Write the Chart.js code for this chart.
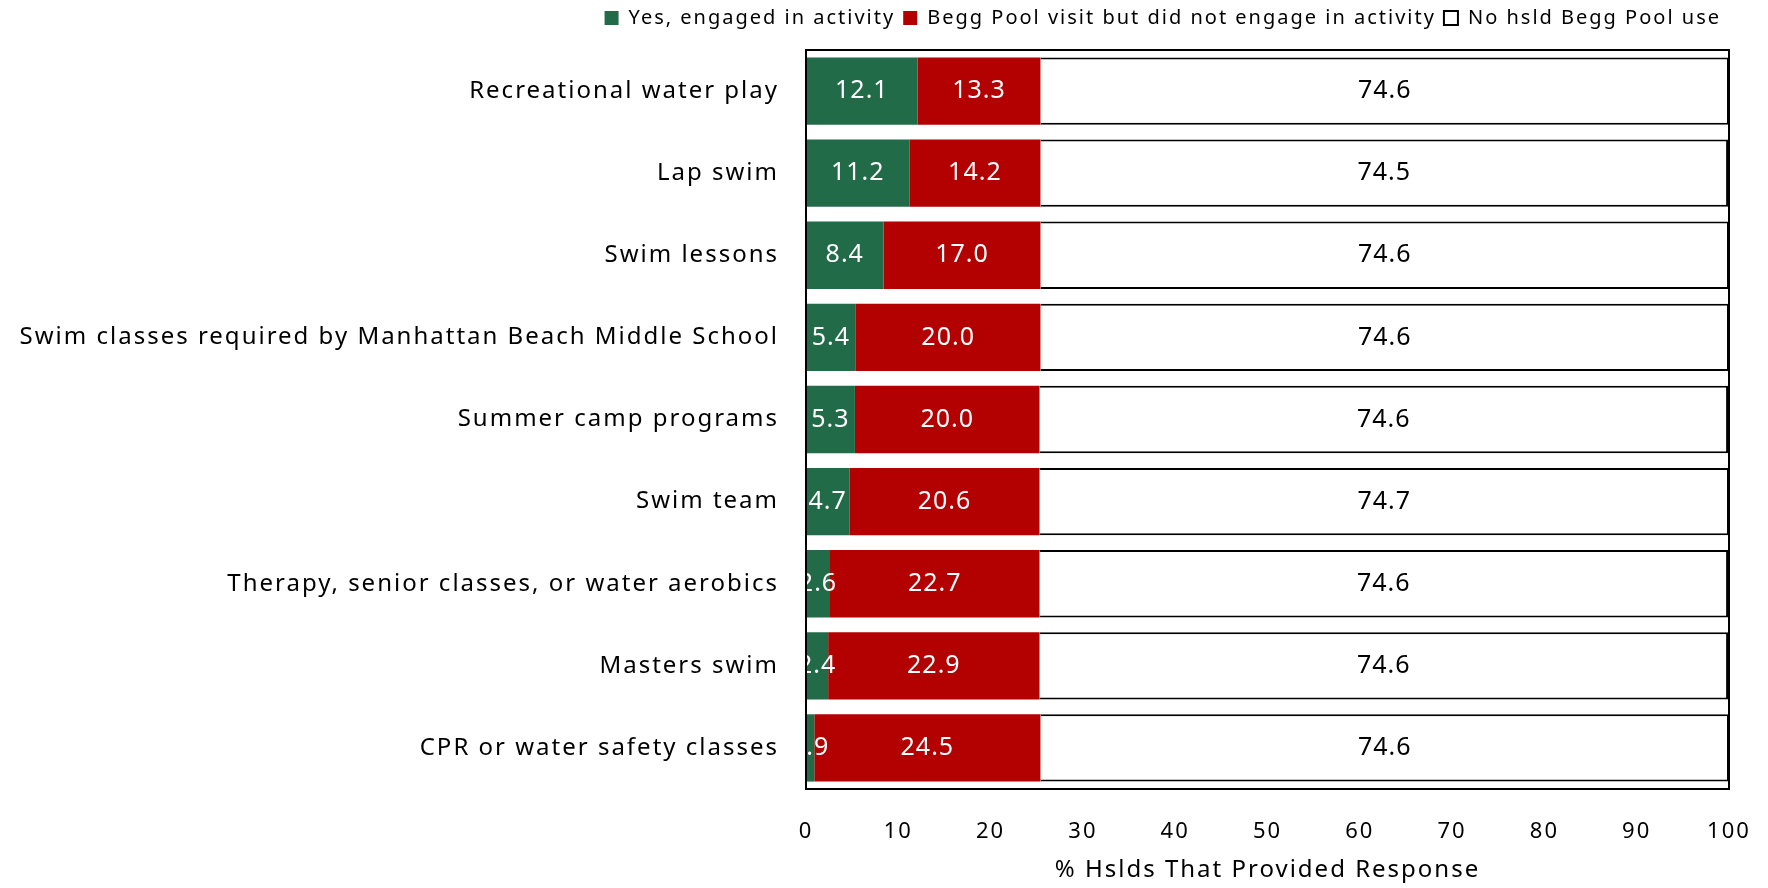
<!DOCTYPE html>
<html>
<head>
<meta charset="utf-8">
<script src="https://cdn.jsdelivr.net/npm/chart.js@4"></script>
<style>
  html, body { margin: 0; padding: 0; background: #fff; }
  #poolChart { display: block; }
</style>
</head>
<body>
<canvas id="poolChart" width="1768" height="888"></canvas>
<script>
// activity categories (top to bottom)
const activities = [
  'Recreational water play',
  'Lap swim',
  'Swim lessons',
  'Swim classes required by Manhattan Beach Middle School',
  'Summer camp programs',
  'Swim team',
  'Therapy, senior classes, or water aerobics',
  'Masters swim',
  'CPR or water safety classes'
];

// % of households
const engaged = [12.1, 11.2, 8.4, 5.4, 5.3, 4.7, 2.6, 2.4, 0.9];
const visitedNotEngaged = [13.3, 14.2, 17.0, 20.0, 20.0, 20.6, 22.7, 22.9, 24.5];
const noPoolUse = [74.6, 74.5, 74.6, 74.6, 74.6, 74.7, 74.6, 74.6, 74.6];

const seriesNames = [
  'Yes, engaged in activity',
  'Begg Pool visit but did not engage in activity',
  'No hsld Begg Pool use'
];

const FONT = "'Noto Sans', 'DejaVu Sans', sans-serif";
const SPACING = '2px';
Chart.defaults.font.family = FONT;
Chart.defaults.color = '#000';

// espaciado de letras para todo el texto del lienzo
const letterSpacing = {
  id: 'letterSpacing',
  beforeUpdate(chart) { chart.ctx.letterSpacing = SPACING; },
  beforeDraw(chart) { chart.ctx.letterSpacing = SPACING; }
};

// etiquetas de valor dentro de cada barra
const barLabels = {
  id: 'barLabels',
  afterDatasetsDraw(chart) {
    const ctx = chart.ctx;
    const area = chart.chartArea;
    ctx.save();
    ctx.beginPath();
    ctx.rect(area.left, area.top, area.right - area.left, area.bottom - area.top);
    ctx.clip();
    ctx.font = '25px ' + FONT;
    ctx.letterSpacing = '1px';
    ctx.textAlign = 'center';
    ctx.textBaseline = 'middle';
    chart.data.datasets.forEach(function (ds, i) {
      const meta = chart.getDatasetMeta(i);
      ctx.fillStyle = i === 2 ? '#000' : '#fff';
      meta.data.forEach(function (bar, j) {
        const x = (bar.x + bar.base) / 2;
        ctx.fillText(ds.data[j].toFixed(1), x, bar.y);
      });
    });
    ctx.restore();
  }
};

// marco negro del área de trazado
const plotFrame = {
  id: 'plotFrame',
  afterDraw(chart) {
    const a = chart.chartArea;
    const ctx = chart.ctx;
    ctx.save();
    ctx.strokeStyle = '#000';
    ctx.lineWidth = 2;
    ctx.strokeRect(a.left, a.top, a.right - a.left, a.bottom - a.top);
    ctx.restore();
  }
};

// altura fija de la leyenda
const legendHeight = {
  id: 'legendHeight',
  beforeInit(chart) {
    const fit = chart.legend.fit;
    chart.legend.fit = function () {
      fit.bind(chart.legend)();
      this.height = 50;
    };
  }
};

new Chart(document.getElementById('poolChart'), {
  type: 'bar',
  data: {
    labels: activities,
    datasets: [
      {
        label: seriesNames[0],
        data: engaged,
        backgroundColor: '#226b48',
        borderWidth: 0
      },
      {
        label: seriesNames[1],
        data: visitedNotEngaged,
        backgroundColor: '#b30000',
        borderWidth: 0
      },
      {
        label: seriesNames[2],
        data: noPoolUse,
        backgroundColor: '#ffffff',
        borderColor: '#000',
        borderWidth: 2
      }
    ]
  },
  options: {
    indexAxis: 'y',
    responsive: false,
    animation: false,
    layout: { padding: { left: 0, right: 39, top: 0, bottom: 0 } },
    datasets: {
      bar: { barPercentage: 1, categoryPercentage: 0.82 }
    },
    plugins: {
      legend: {
        position: 'top',
        align: 'end',
        labels: {
          boxWidth: 14,
          boxHeight: 14,
          padding: 8,
          font: { size: 20 }
        }
      },
      tooltip: { enabled: false }
    },
    scales: {
      x: {
        stacked: true,
        min: 0,
        max: 100,
        grid: { display: false },
        border: { display: false },
        ticks: { stepSize: 10, padding: 22, font: { size: 22 } },
        title: {
          display: true,
          text: '% Hslds That Provided Response',
          font: { size: 24 },
          padding: { top: 3, bottom: 3 }
        },
        afterFit(scale) {
          scale.height = 99;
          scale.paddingLeft = 0;
          scale.paddingRight = 0;
        }
      },
      y: {
        stacked: true,
        grid: { display: false },
        border: { display: false },
        ticks: { padding: 19, font: { size: 24 }, autoSkip: false },
        afterFit(scale) { scale.width = 806; }
      }
    }
  },
  plugins: [letterSpacing, barLabels, plotFrame, legendHeight]
});
</script>
</body>
</html>
